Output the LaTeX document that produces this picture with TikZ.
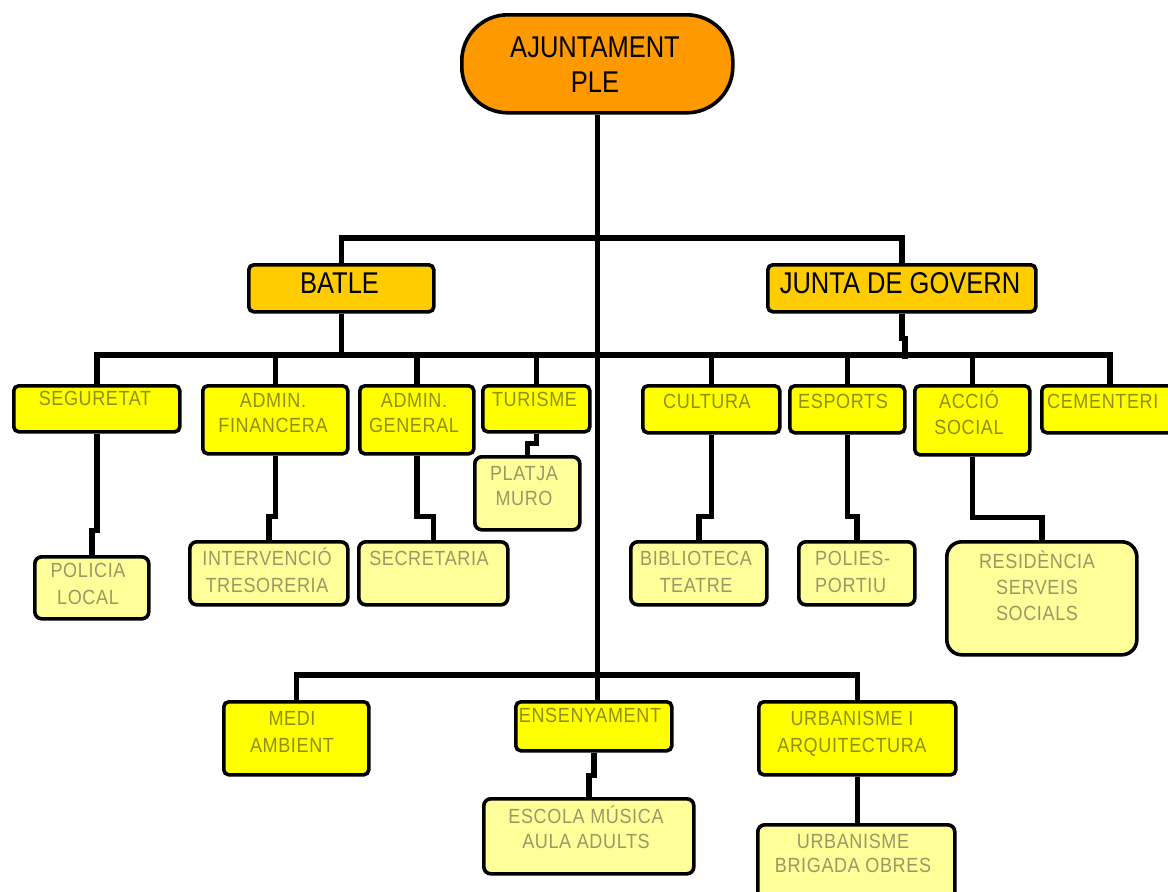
\documentclass[tikz,border=0pt]{standalone}
\usepackage{fontspec}
\setmainfont{Liberation Sans}
\newfontfamily\lsfont[LetterSpace=3,FakeStretch=0.88]{Liberation Sans}
\newfontfamily\ttlfont[FakeStretch=0.85]{Liberation Sans}
\definecolor{orangeA}{HTML}{FF9900}
\definecolor{goldA}{HTML}{FFCC00}
\definecolor{yelA}{HTML}{FFFF00}
\definecolor{ltyelA}{HTML}{FFFF99}
\definecolor{oliveT}{HTML}{8F8F14}
\definecolor{greyT}{HTML}{999966}
\tikzset{
  conn/.style={line width=5.4pt, black, line join=miter},
  boxbase/.style={draw=black, line width=3.6pt, inner sep=0pt, anchor=north west},
  lonebox/.style={boxbase, fill=goldA, rounded corners=5pt},
  ltwobox/.style={boxbase, fill=yelA, rounded corners=5pt},
  lthreebox/.style={boxbase, fill=ltyelA, rounded corners=7pt},
  ttitle/.style={inner sep=0pt, anchor=base, align=center, text=black, font=\ttlfont\fontsize{30}{35}\selectfont},
  ttwo/.style={inner sep=0pt, anchor=base, align=center, text=oliveT, font=\lsfont\fontsize{20.5}{25}\selectfont},
  tthree/.style={inner sep=0pt, anchor=base, align=center, text=greyT, font=\lsfont\fontsize{20.5}{27}\selectfont},
}
\begin{document}
\begin{tikzpicture}[x=1pt,y=-1pt]
\useasboundingbox (0,0) rectangle (1168,892);
\fill[white] (0,0) rectangle (1168,892);
\clip (0,0) rectangle (1168,892);
% ---------- boxes ----------
\node[boxbase, fill=orangeA, rounded corners=46pt, minimum width=271pt, minimum height=98pt] (top) at (460,13) {};
\node[lonebox, minimum width=185pt, minimum height=47pt] (batle) at (247,263) {};
\node[lonebox, minimum width=268pt, minimum height=47pt] (junta) at (766,263) {};
\node[ltwobox, minimum width=166pt, minimum height=46pt] (seg) at (12,384) {};
\node[ltwobox, minimum width=145pt, minimum height=68pt] (fin) at (201,384) {};
\node[ltwobox, minimum width=114pt, minimum height=68pt] (gen) at (358,384) {};
\node[ltwobox, minimum width=107pt, minimum height=46pt] (tur) at (481,384) {};
\node[ltwobox, minimum width=137pt, minimum height=47pt] (cul) at (641,384) {};
\node[ltwobox, minimum width=115pt, minimum height=47pt] (esp) at (788,384) {};
\node[ltwobox, minimum width=115pt, minimum height=69pt] (acc) at (913,384) {};
\node[ltwobox, minimum width=136pt, minimum height=47pt] (cem) at (1040,384) {};
\node[lthreebox, minimum width=114pt, minimum height=62pt] (pol) at (33,555) {};
\node[lthreebox, minimum width=158pt, minimum height=63pt] (int) at (188,540) {};
\node[lthreebox, minimum width=149pt, minimum height=63pt] (sec) at (357,540) {};
\node[lthreebox, minimum width=105pt, minimum height=73pt] (pla) at (473,455) {};
\node[lthreebox, minimum width=136pt, minimum height=63pt] (bib) at (629,540) {};
\node[lthreebox, minimum width=116pt, minimum height=63pt] (pols) at (797,540) {};
\node[lthreebox, rounded corners=15pt, minimum width=190pt, minimum height=113pt] (res) at (945,540) {};
\node[ltwobox, minimum width=145pt, minimum height=73pt] (medi) at (222,700) {};
\node[ltwobox, minimum width=156pt, minimum height=49pt] (ens) at (514,700) {};
\node[ltwobox, minimum width=197pt, minimum height=73pt] (urb) at (757,700) {};
\node[lthreebox, minimum width=210pt, minimum height=75pt] (esc) at (482,797) {};
\node[lthreebox, minimum width=197pt, minimum height=85pt] (urbb) at (756,823) {};
% ---------- bus coordinates ----------
\coordinate (bA) at (595,238);
\coordinate (bB) at (595,355);
\coordinate (bC) at (595,675);
% ---------- connectors ----------
\draw[conn] (top.south) -- (top.south |- ens.north);
\draw[conn] (batle.north) -- (batle.north |- bA) -- (junta.north |- bA) -- (junta.north);
\draw[conn] (batle.south) -- (batle.south |- bB);
\draw[conn] (junta.south) -- ++(0,25) -- ++(3,0) -- ++(0,20);
\draw[conn] (seg.north) -- (seg.north |- bB) -- (cem.north |- bB) -- (cem.north);
\foreach \n in {fin,gen,tur,cul,esp,acc}{\draw[conn] (\n.north) -- (\n.north |- bB);}
\draw[conn] (medi.north) -- (medi.north |- bC) -- (urb.north |- bC) -- (urb.north);
\draw[conn] (seg.south) -- ++(0,97) -| (pol.north);
\draw[conn] (fin.south) -- ++(0,61) -| (int.north);
\draw[conn] (gen.south) -- ++(0,61) -| (sec.north);
\draw[conn] (tur.south) -- ++(0,10) -| (pla.north);
\draw[conn] (cul.south) -- ++(0,82) -| (bib.north);
\draw[conn] (esp.south) -- ++(0,82) -| (pols.north);
\draw[conn] (acc.south) -- ++(0,61) -| (res.north);
\draw[conn] (ens.south) -- ++(0,23) -| (esc.north);
\draw[conn] (urb.south) -- (urb.south |- urbb.north);
% ---------- texts (anchor = baseline of last line) ----------
\node[ttitle] (ttop) at (595,92) {AJUNTAMENT\\PLE};
\node[ttitle] (tbatle) at (339.5,293) {BATLE};
\node[ttitle] (tjunta) at (900,293) {JUNTA DE GOVERN};
\node[ttwo] (tseg) at (95,405) {SEGURETAT};
\node[ttwo] (tfin) at (273,432) {ADMIN.\\FINANCERA};
\node[ttwo] (tgen) at (414,432) {ADMIN.\\GENERAL};
\node[ttwo] (ttur) at (534.5,406) {TURISME};
\node[ttwo] (tcul) at (707,408) {CULTURA};
\node[ttwo] (tesp) at (843,408) {ESPORTS};
\node[ttwo, font=\lsfont\fontsize{20.5}{26}\selectfont] (tacc) at (969,434) {ACCIÓ\\SOCIAL};
\node[ttwo, anchor=base west] (tcem) at (1047,408) {CEMENTERI};
\node[tthree] (tpol) at (88,604) {POLICIA\\LOCAL};
\node[tthree] (tint) at (267,592) {INTERVENCIÓ\\TRESORERIA};
\node[tthree] (tsec) at (429,565) {SECRETARIA};
\node[tthree, font=\lsfont\fontsize{20.5}{25}\selectfont] (tpla) at (524,505) {PLATJA\\MURO};
\node[tthree] (tbib) at (696,592) {BIBLIOTECA\\TEATRE};
\node[tthree, align=left, anchor=base west] (tpols) at (815,592) {POLIES-\\PORTIU};
\node[tthree, font=\lsfont\fontsize{20.5}{26}\selectfont] (tres) at (1037,620) {RESIDÈNCIA\\SERVEIS\\SOCIALS};
\node[ttwo, font=\lsfont\fontsize{20.5}{27}\selectfont] (tmedi) at (292,752) {MEDI\\AMBIENT};
\node[ttwo] (tens) at (590,722) {ENSENYAMENT};
\node[ttwo, font=\lsfont\fontsize{20.5}{27}\selectfont] (turb) at (852,752) {URBANISME I\\ARQUITECTURA};
\node[tthree, font=\lsfont\fontsize{20.5}{25}\selectfont] (tesc) at (586,848) {ESCOLA MÚSICA\\AULA ADULTS};
\node[tthree, font=\lsfont\fontsize{20.5}{24}\selectfont] (turbb) at (853,872) {URBANISME\\BRIGADA OBRES};
\end{tikzpicture}
\end{document}
